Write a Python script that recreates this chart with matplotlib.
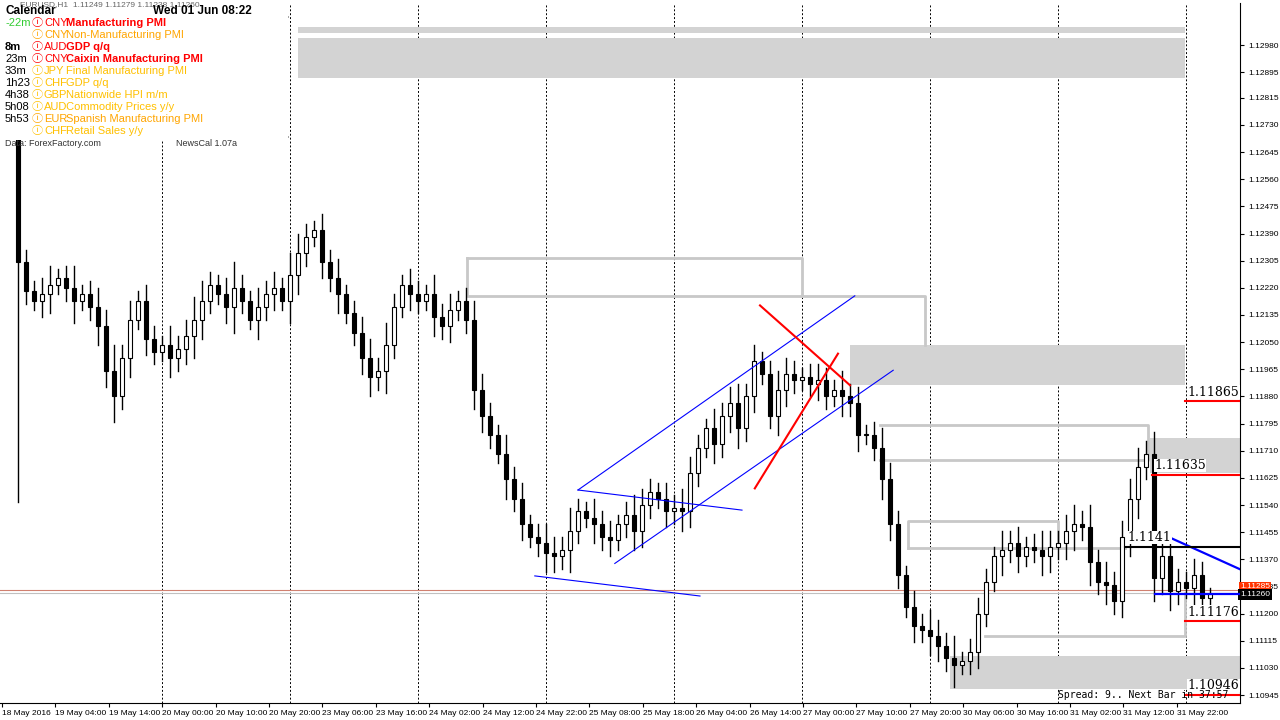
import matplotlib.pyplot as plt
from matplotlib.patches import Rectangle

plt.rcParams['font.family'] = ['Liberation Sans', 'DejaVu Sans', 'Noto Sans CJK JP']

# closes in 1e-5 units above 1.0 (H1 bars, ~8 px apart)
closes = [12300, 12210, 12180, 12200, 12230, 12250, 12220, 12180, 12200, 12160,
          12100, 11960, 11880, 12000, 12120, 12180, 12060, 12020, 12040, 12000,
          12030, 12070, 12120, 12180, 12230, 12200, 12160, 12220, 12180, 12120,
          12160, 12200, 12220, 12180, 12260, 12330, 12380, 12400, 12300, 12250,
          12200, 12140, 12080, 12000, 11940, 11960, 12040, 12160, 12230, 12200,
          12180, 12200, 12130, 12100, 12150, 12180, 12120, 11900, 11820, 11760,
          11700, 11620, 11560, 11480, 11440, 11420, 11390, 11380, 11400, 11460,
          11520, 11500, 11480, 11440, 11430, 11480, 11510, 11460, 11540, 11580,
          11560, 11520, 11530, 11520, 11640, 11720, 11780, 11730, 11820, 11860,
          11780, 11880, 11990, 11950, 11820, 11900, 11950, 11930, 11940, 11920,
          11930, 11880, 11900, 11880, 11860, 11760, 11760, 11720, 11620, 11480,
          11320, 11220, 11160, 11150, 11130, 11100, 11060, 11040, 11050, 11080,
          11200, 11300, 11380, 11400, 11420, 11380, 11410, 11400, 11380, 11410,
          11420, 11460, 11480, 11470, 11360, 11300, 11290, 11240, 11440, 11560,
          11660, 11700, 11310, 11380, 11270, 11300, 11280, 11320, 11250, 11260]
first_open = 12700
wicks = [750, 40, 30, 50, 60, 30, 40, 70, 30, 40, 60, 50, 80, 40, 60, 30, 50, 40, 30, 60,
         40, 50, 70, 60, 40, 30, 50, 80, 40, 30, 60, 40, 50, 30, 70, 60, 40, 30, 50, 40,
         60, 30, 40, 50, 60, 40, 70, 40, 30, 50, 40, 30, 60, 40, 50, 30, 40, 60, 50, 40,
         30, 60, 40, 50, 30, 40, 60, 50, 40, 70, 40, 30, 60, 40, 50, 30, 40, 60, 50, 40,
         30, 50, 40, 60, 50, 40, 30, 60, 40, 50, 60, 40, 50, 30, 40, 60, 50, 40, 30, 40,
         50, 40, 30, 60, 40, 50, 30, 40, 60, 50, 40, 30, 50, 40, 60, 50, 40, 70, 30, 40,
         50, 40, 30, 60, 40, 50, 30, 40, 60, 50, 40, 50, 60, 40, 70, 40, 60, 40, 50, 60,
         60, 40, 70, 50, 60, 40, 30, 50, 40, 20]

price_ticks = [1.10945, 1.11030, 1.11115, 1.11200, 1.11285, 1.11370, 1.11455, 1.11540,
               1.11625, 1.11710, 1.11795, 1.11880, 1.11965, 1.12050, 1.12135, 1.12220,
               1.12305, 1.12390, 1.12475, 1.12560, 1.12645, 1.12730, 1.12815, 1.12895,
               1.12980]
time_labels = ['18 May 2016', '19 May 04:00', '19 May 14:00', '20 May 00:00', '20 May 10:00',
               '20 May 20:00', '23 May 06:00', '23 May 16:00', '24 May 02:00', '24 May 12:00',
               '24 May 22:00', '25 May 08:00', '25 May 18:00', '26 May 04:00', '26 May 14:00',
               '27 May 00:00', '27 May 10:00', '27 May 20:00', '30 May 06:00', '30 May 16:00',
               '31 May 02:00', '31 May 12:00', '31 May 22:00']
separators = [18, 34, 50, 66, 82, 98, 114, 130, 146]

# zones: (idx0, idx1, price_lo, price_hi)
zones = [(35, 145.9, 1.13017, 1.13036), (35, 145.9, 1.12876, 1.13002),
         (104, 145.9, 1.11915, 1.12041), (141.5, 153, 1.11641, 1.11751),
         (116.5, 153, 1.10964, 1.11068)]
outlines = [[(56.1, 1.12312), (98, 1.12312), (98, 1.12195)],
            [(56.1, 1.12312), (56.1, 1.12195), (113.4, 1.12195), (113.4, 1.12041)],
            [(107.8, 1.11792), (141.3, 1.11792), (141.3, 1.11682), (107.8, 1.11682)],
            [(111.3, 1.11404), (111.3, 1.11490), (130, 1.11490), (130, 1.11404)],
            [(111.3, 1.11404), (138.4, 1.11404)],
            [(120.9, 1.11131), (145.9, 1.11131), (145.9, 1.11263)]]
blue_lines = [[(70, 1.11587), (104.6, 1.12195)], [(74.6, 1.11357), (109.4, 1.11962)],
              [(70, 1.11587), (90.5, 1.11524)], [(64.6, 1.11318), (85.25, 1.11255)],
              [(142.75, 1.11452), (153, 1.11336)], [(142.1, 1.1126), (153, 1.1126)]]
red_lines = [[(92.1, 1.11592), (102.5, 1.12014)], [(92.75, 1.12165), (104, 1.11915)]]
levels = [(145.9, 1.11865, 'red', '1.11865'), (141.75, 1.11635, 'red', '1.11635'),
          (138.4, 1.11410, 'black', '1.1141'), (145.9, 1.11176, 'red', '1.11176'),
          (145.9, 1.10946, 'red', '1.10946')]

fig = plt.figure(figsize=(12.8, 7.2), dpi=100)
ax = fig.add_axes([0, 17 / 720, 1240 / 1280, 700 / 720])
ax.set_xlim(-2.25, 152.75)
ax.set_ylim(1.1092, 1.13112)

for x in separators:
    ax.axvline(x, color='black', lw=0.7, ls=(0, (2, 2)), zorder=0)

for x0, x1, lo, hi in zones:
    ax.add_patch(Rectangle((x0, lo), x1 - x0, hi - lo, color='#d3d3d3', lw=0, zorder=1))
for pts in outlines:
    ax.plot([p[0] for p in pts], [p[1] for p in pts], color='#c8c8c8', lw=2, zorder=1)

ax.axhline(1.11273, color='#d08070', lw=0.8, zorder=1)
ax.axhline(1.11263, color='#c0c0c0', lw=0.8, zorder=1)

prev = first_open
for i, c in enumerate(closes):
    o = prev
    hi = 1 + (max(o, c) + wicks[i]) * 1e-5
    lo = 1 + (min(o, c) - wicks[i]) * 1e-5
    ax.plot([i, i], [lo, hi], color='black', lw=1, zorder=3)
    bull = c >= o
    ax.add_patch(Rectangle((i - 0.28, 1 + min(o, c) * 1e-5), 0.56,
                           max(abs(c - o), 2) * 1e-5,
                           facecolor='white' if bull else 'black',
                           edgecolor='black', lw=0.8, zorder=4))
    prev = c

for pts in blue_lines:
    ax.plot([p[0] for p in pts], [p[1] for p in pts], color='blue',
            lw=0.8 if pts[0][0] < 140 else 1.6, zorder=5)
for pts in red_lines:
    ax.plot([p[0] for p in pts], [p[1] for p in pts], color='red', lw=1.5, zorder=5)
for x0, y, col, txt in levels:
    ax.text(x0 + 0.3, y + 0.00008, txt, fontsize=9, family='DejaVu Serif', va='bottom',
            zorder=5, bbox=dict(facecolor='white', edgecolor='none', pad=0.2))
    ax.plot([x0, 153], [y, y], color=col, lw=1.5, zorder=6)

ax.yaxis.tick_right()
ax.set_yticks(price_ticks)
ax.set_yticklabels([f'{p:.5f}' for p in price_ticks], fontsize=6)
ax.tick_params(axis='y', length=3, pad=3)
ax.set_xticks([(2 + 53.4 * k) / 8 - 2.25 for k in range(len(time_labels))])
ax.set_xticklabels(time_labels, fontsize=6, ha='left')
ax.tick_params(axis='x', length=3, pad=2)
for s in ['top', 'left']:
    ax.spines[s].set_visible(False)

ax.text(1.0, 1.11285, '1.11285', transform=ax.get_yaxis_transform(), fontsize=6,
        color='white', va='center', bbox=dict(facecolor='#ff3300', edgecolor='none', pad=1))
ax.text(1.0, 1.1126, '1.11260', transform=ax.get_yaxis_transform(), fontsize=6,
        color='white', va='center', bbox=dict(facecolor='black', edgecolor='none', pad=1.5))

# news calendar panel
fig.patches.append(Rectangle((0, 1 - 140 / 720), 288 / 1280, 140 / 720, transform=fig.transFigure,
                             facecolor='white', edgecolor='none', zorder=2))
for yp in [17, 137]:
    fig.add_artist(plt.Line2D([5 / 1280, 288 / 1280], [1 - yp / 720] * 2, color='gray', lw=1.2))


def ftxt(x, y, s, **kw):
    fig.text(x / 1280, 1 - y / 720, s, va='center', zorder=6, **kw)


ftxt(20, 5, 'EURUSD,H1  1.11249 1.11279 1.11238 1.11260', fontsize=6, color='#666666')
ftxt(5, 11, 'Calendar', fontsize=8.5, weight='bold')
ftxt(153, 11, 'Wed 01 Jun 08:22', fontsize=8.5, weight='bold')
rows = [('-22m', '#33cc33', 'CNY', 'Manufacturing PMI', 'red', True),
        ('', 'black', 'CNY', 'Non-Manufacturing PMI', 'orange', False),
        ('8m', 'black', 'AUD', 'GDP q/q', 'red', True),
        ('23m', 'black', 'CNY', 'Caixin Manufacturing PMI', 'red', True),
        ('33m', 'black', 'JPY', 'Final Manufacturing PMI', '#ffc000', False),
        ('1h23', 'black', 'CHF', 'GDP q/q', '#ffc000', False),
        ('4h38', 'black', 'GBP', 'Nationwide HPI m/m', '#ffc000', False),
        ('5h08', 'black', 'AUD', 'Commodity Prices y/y', '#ffc000', False),
        ('5h53', 'black', 'EUR', 'Spanish Manufacturing PMI', 'orange', False),
        ('', 'black', 'CHF', 'Retail Sales y/y', '#ffc000', False)]
for k, (t, tc, cur, ev, col, bold) in enumerate(rows):
    y = 23 + 12 * k
    ftxt(5, y, t, fontsize=8, color=tc, weight='bold' if t == '8m' else 'normal')
    ftxt(32, y, 'ⓘ', fontsize=8, color=col, family=['Noto Sans CJK JP', 'DejaVu Sans'])
    ftxt(44, y, cur, fontsize=8, color=col)
    ftxt(66, y, ev, fontsize=8, color=col, weight='bold' if bold else 'normal')
ftxt(5, 143, 'Data: ForexFactory.com', fontsize=6.5, color='#333333')
ftxt(176, 143, 'NewsCal 1.07a', fontsize=6.5, color='#333333')
ftxt(1058, 695, 'Spread: 9.. Next Bar in 37:57', fontsize=7, family='DejaVu Sans Mono')

fig.savefig('out.png', dpi=100)
